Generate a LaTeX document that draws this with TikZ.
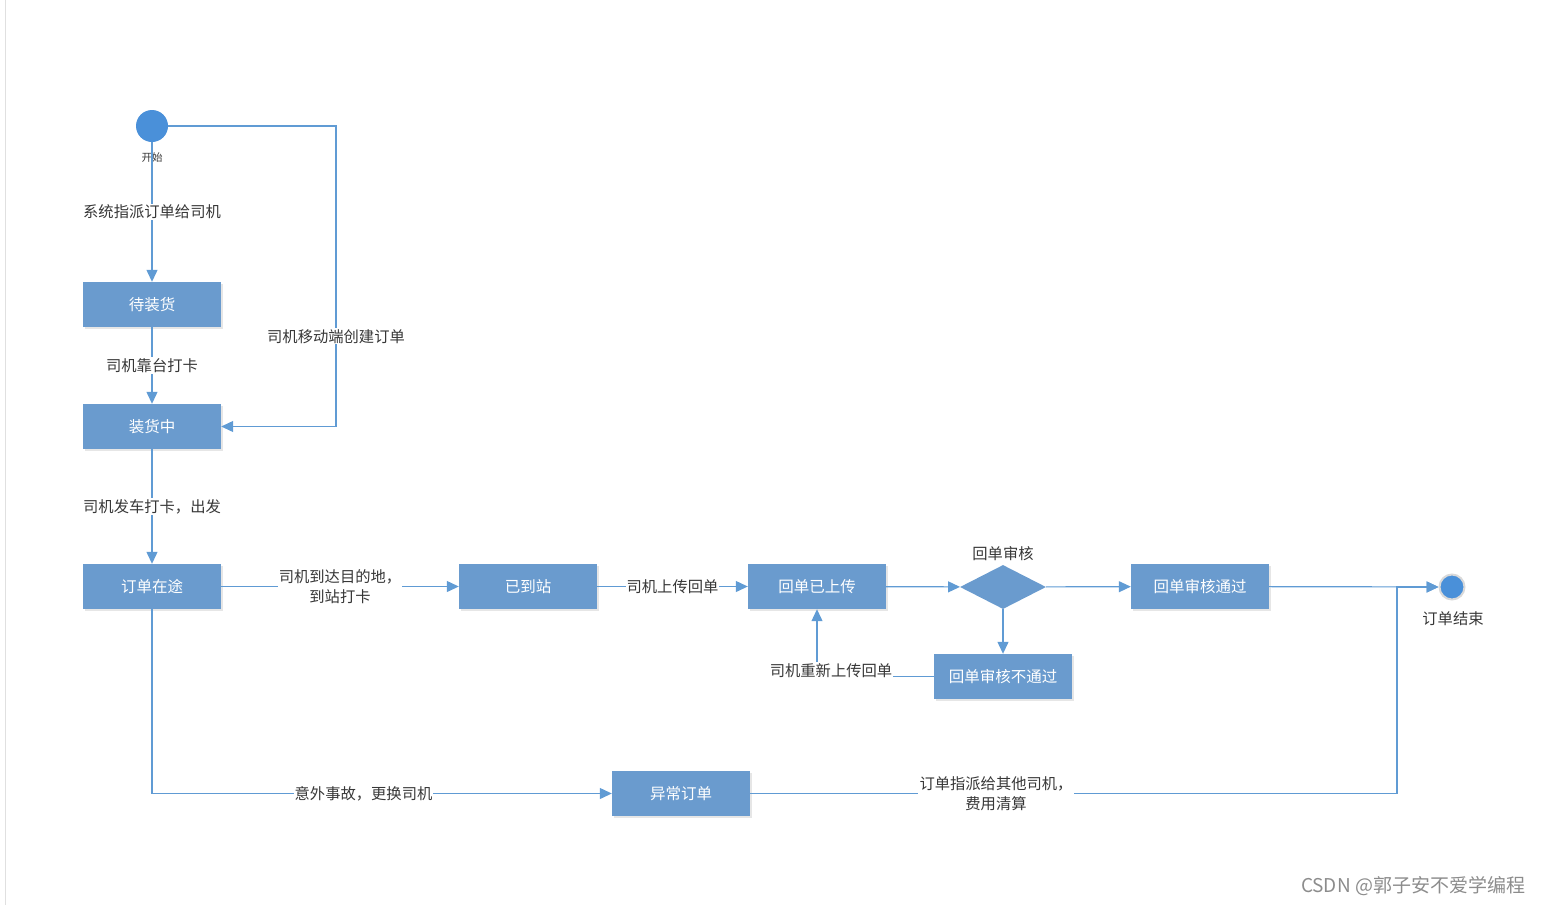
\documentclass[tikz,border=0pt]{standalone}
\usepackage{fontspec}
\newfontfamily\cjk{Noto Sans CJK SC}
\usetikzlibrary{shapes.geometric,arrows.meta,shadows}
\definecolor{boxblue}{RGB}{106,155,206}
\definecolor{dotblue}{RGB}{74,144,217}
\definecolor{lineblue}{RGB}{96,155,212}
\definecolor{labelgray}{RGB}{55,55,55}
\tikzset{
	statebox/.style={rectangle,fill=boxblue,text=white,minimum width=138pt,minimum height=45pt,inner sep=0pt,font=\cjk\fontsize{15.5}{18}\selectfont,drop shadow={opacity=0.2,shadow xshift=2pt,shadow yshift=-2pt}},
	trans/.style={draw=lineblue,line width=1.2pt,-{Triangle[length=12pt,width=11pt]}},
	lbl/.style={fill=white,text=labelgray,inner sep=1pt,align=center,font=\cjk\fontsize{15.3}{20}\selectfont}
}
\begin{document}
\begin{tikzpicture}[x=1pt,y=-1pt]
			\useasboundingbox (0,0) rectangle (1544,905);
			\draw[black!12,line width=1pt] (5,0) -- (5,905);
			\node[circle,fill=dotblue,minimum size=32pt,inner sep=0pt] (start) at (152,126) {};
			\node[text=labelgray,font=\cjk\fontsize{10.5}{12}\selectfont] (startlbl) at (152,158) {开始};
			\node[statebox] (waiting) at (152,304.5) {待装货};
			\node[statebox] (loading) at (152,426.5) {装货中};
			\node[statebox] (transit) at (152,586.5) {订单在途};
			\node[statebox] (arrived) at (528,586.5) {已到站};
			\node[statebox] (uploaded) at (817,586.5) {回单已上传};
			\node[diamond,fill=boxblue,minimum width=86pt,minimum height=44pt,inner sep=0pt] (review) at (1003,587) {};
			\node[lbl] (reviewlbl) at (1003,554) {回单审核};
			\node[statebox] (passed) at (1200,586.5) {回单审核通过};
			\node[statebox] (rejected) at (1003,676.5) {回单审核不通过};
			\node[statebox] (abnormal) at (681,793.5) {异常订单};
			\node[circle,fill=dotblue,draw=black!15,line width=2pt,minimum size=25pt,inner sep=0pt] (finish) at (1452,587) {};
			\node[text=labelgray,font=\cjk\fontsize{15.3}{18}\selectfont] (finishlbl) at (1453,619) {订单结束};
			\coordinate (rc) at (336,126);
			\coordinate (rb) at (1397,793.5);
			\draw[trans] (start) -- (waiting) node[lbl,midway] {系统指派订单给司机};
			\draw[trans] (start.east) -- (rc) |- (loading.east) node[lbl,pos=0.35] {司机移动端创建订单};
			\draw[trans] (waiting) -- (loading) node[lbl,midway] {司机靠台打卡};
			\draw[trans] (loading) -- (transit) node[lbl,midway] {司机发车打卡，出发};
			\draw[trans] (transit) -- (arrived) node[lbl,midway] {司机到达目的地，\\到站打卡};
			\draw[trans] (arrived) -- (uploaded) node[lbl,midway] {司机上传回单};
			\draw[trans] (uploaded) -- (review);
			\draw[trans] (review) -- (passed);
			\draw[trans] (review) -- (rejected);
			\draw[trans] (rejected.west) -| (uploaded.south) node[lbl,pos=0.5,xshift=14pt,yshift=6pt] {司机重新上传回单};
			\draw[trans] (passed) -- (finish);
			\draw[trans] (transit.south) |- (abnormal.west) node[lbl,pos=0.73] {意外事故，更换司机};
			\draw[trans] (abnormal.east) -- node[lbl,pos=0.38] {订单指派给其他司机，\\费用清算} (rb) |- (finish.west);
			\node[text=black!45,font=\cjk\fontsize{19}{21}\selectfont] (mark) at (1413,886) {CSDN @郭子安不爱学编程};
		\end{tikzpicture}
\end{document}
